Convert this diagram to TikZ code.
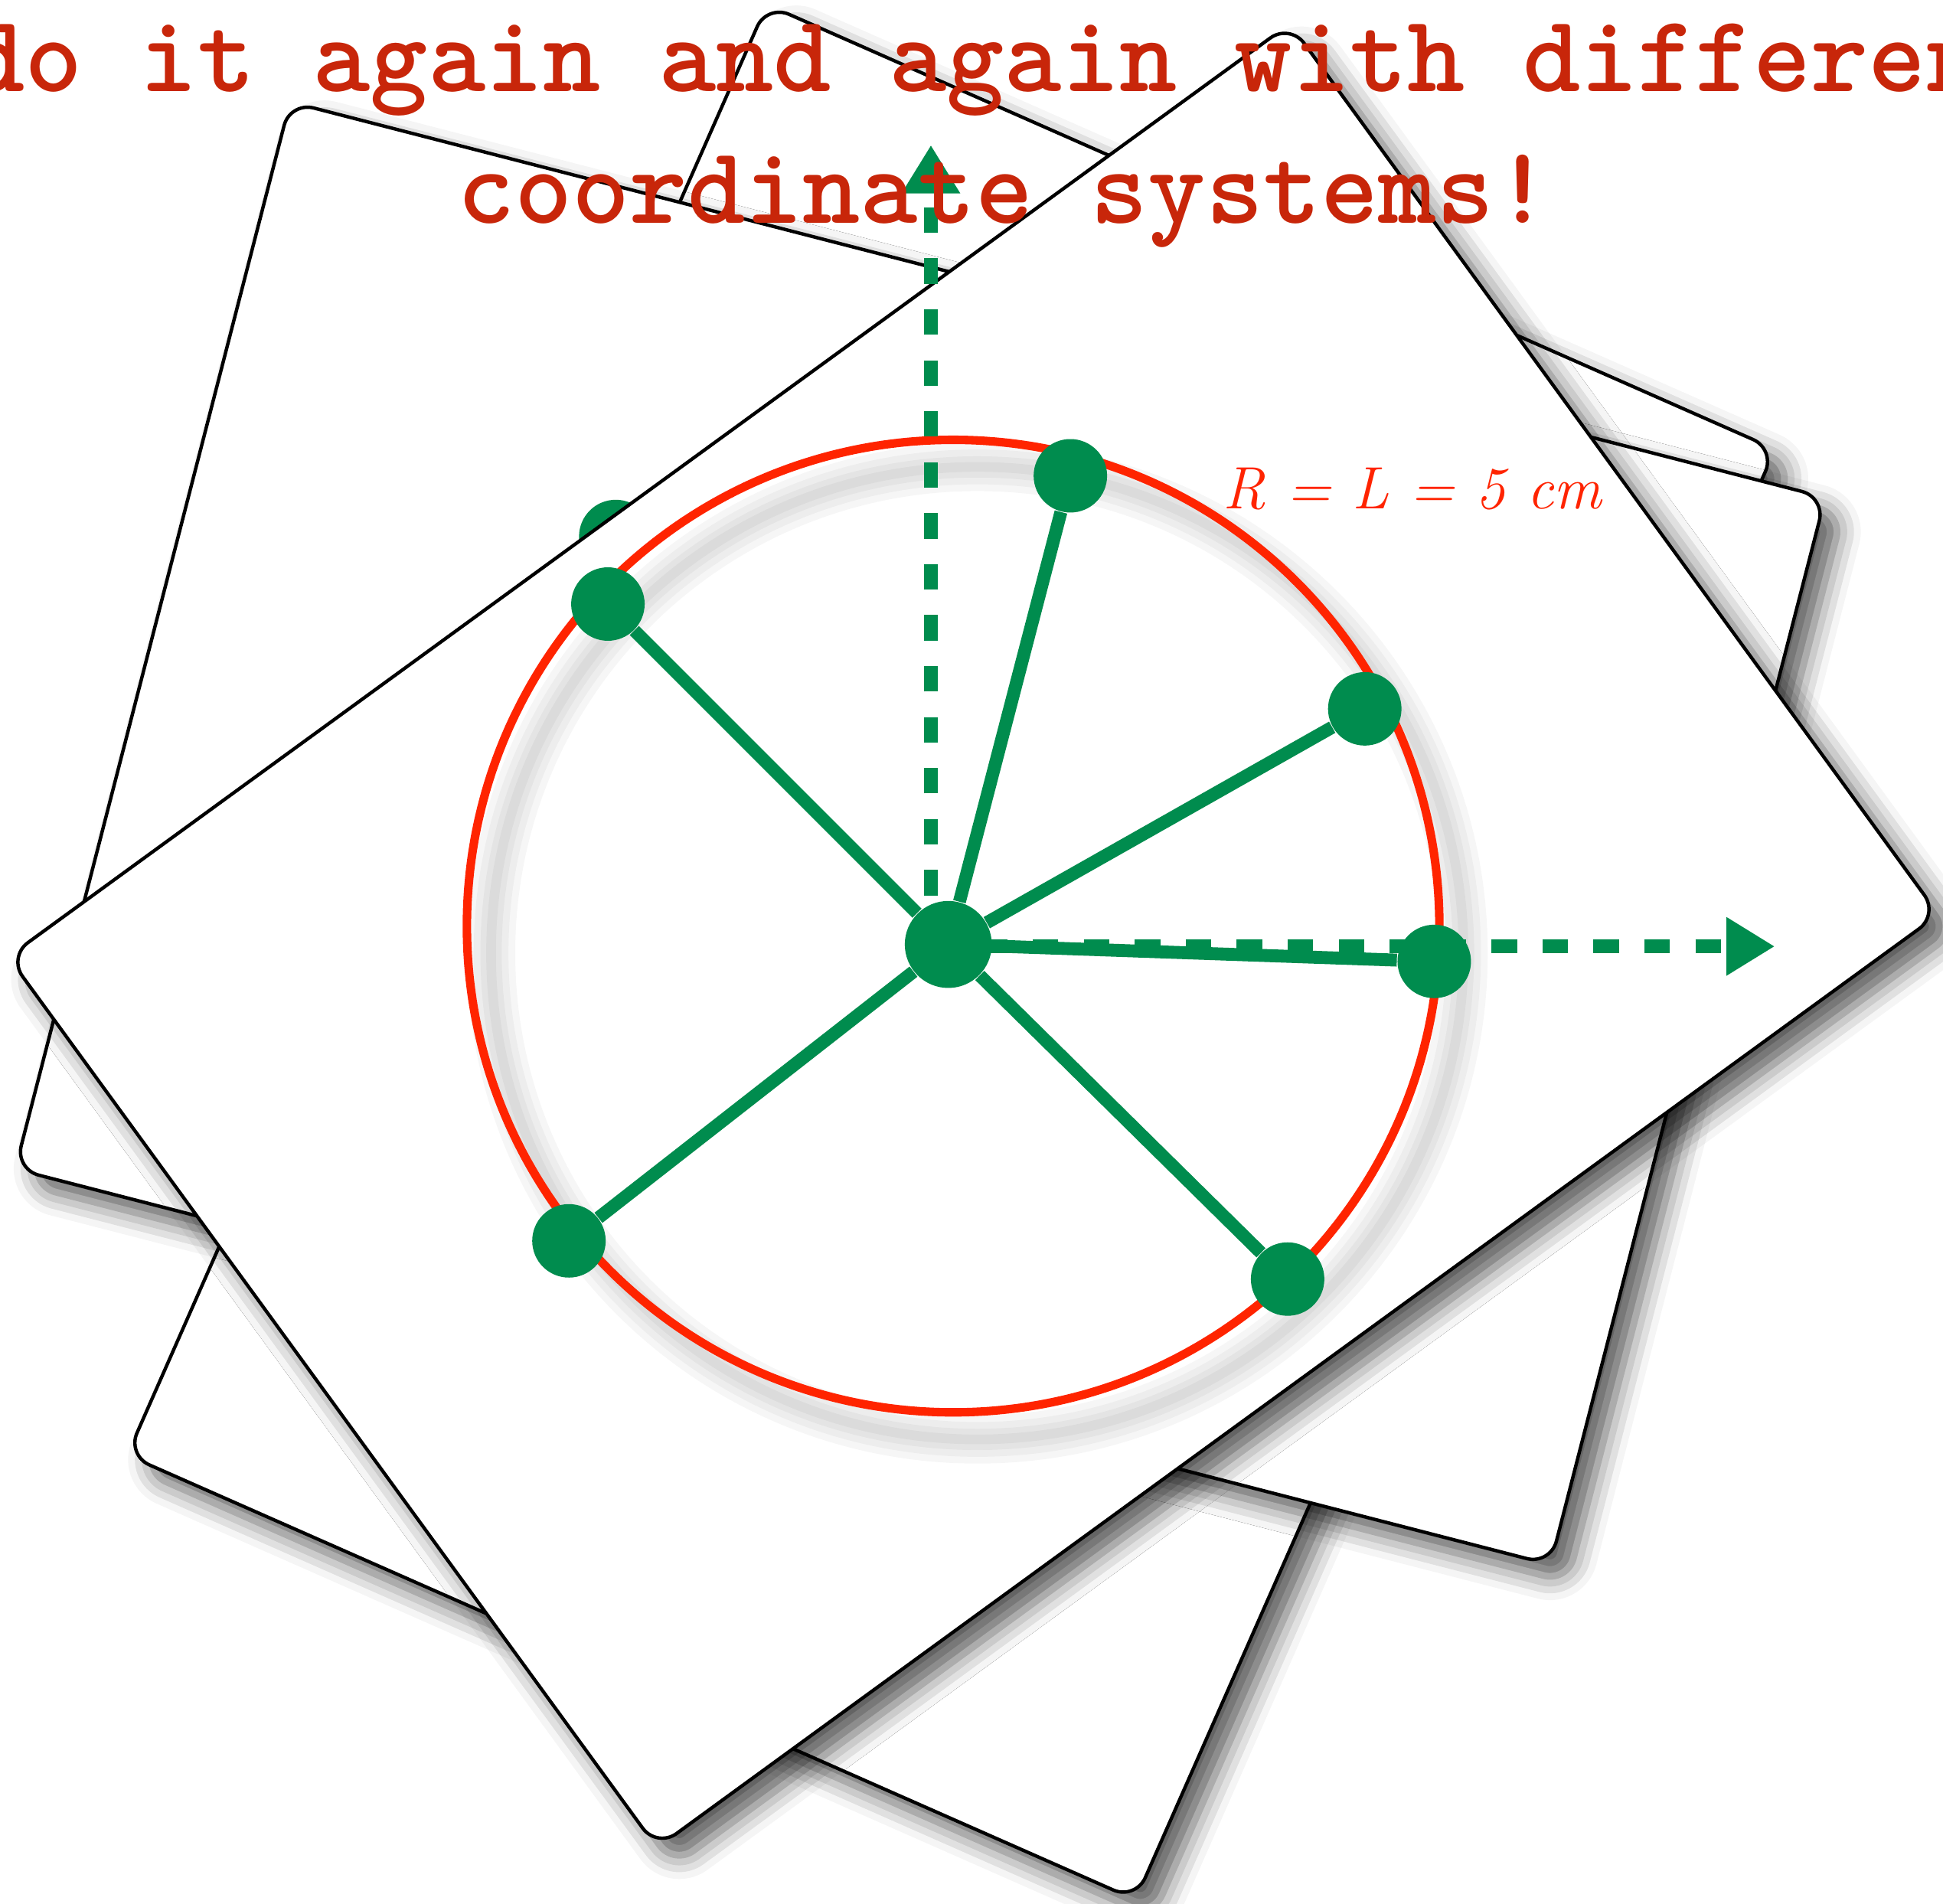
\documentclass[tikz,border=0pt]{standalone}
\usepackage{tikz}
\usetikzlibrary{arrows.meta,shadows.blur}

\definecolor{dotgreen}{RGB}{0,140,78}
\definecolor{ringred}{RGB}{255,36,0}
\definecolor{titlered}{RGB}{200,38,10}

\tikzset{
  card/.style={draw, fill=white, line width=1pt, rounded corners=0.25cm,
    inner sep=0pt, minimum width=16.4cm, minimum height=11.4cm,
    blur shadow={shadow xshift=5pt, shadow yshift=-5pt,
      shadow blur radius=7pt, shadow opacity=65}},
  dot/.style={circle, fill=dotgreen, inner sep=0pt, minimum size=0.76cm},
  spoke/.style={dotgreen, line width=3.8pt},
  axis/.style={dotgreen, line width=4pt, dash pattern=on 7.5pt off 7.5pt,
    -{Triangle[length=0.5cm,width=0.57cm]}},
  haze/.style={black, opacity=0.035}
}

\begin{document}
\begin{tikzpicture}
\useasboundingbox (-9.81,-9.92) rectangle (10.29,9.77);

% the sheets, back to front
\node[card, rotate=66.2] (cardC) at (0.03,-0.08) {};
\node[card, rotate=-14.45] (cardB) at (-0.29,1.15) {};
\node[dot] (q) at (-3.44,4.22) {};
\node[card, rotate=36.06] (cardD) at (0.26,0.09) {};

% soft shadow of the ring
\coordinate (m) at (0.05,0.19);
\coordinate (ms) at (0.3,-0.09);
\draw[haze, line width=0.5cm] (ms) circle (5.03);
\draw[haze, line width=0.36cm] (ms) circle (5.03);
\draw[haze, line width=0.22cm] (ms) circle (5.03);
\draw[haze, line width=0.1cm] (ms) circle (5.03);
\draw[ringred, line width=2.5pt] (m) circle (5.03);

% axes
\coordinate (ax) at (-0.18,-0.02);
\coordinate (xe) at (8.55,-0.02);
\coordinate (ye) at (-0.18,8.27);
\draw[axis] (ax) -- (xe);
\draw[axis] (ax) -- (ye);

% the star
\node[dot, minimum size=0.9cm] (o) at (0,0) {};
\node[dot] (p1) at (75.4:5.01) {};
\node[dot] (p2) at (135:4.98) {};
\node[dot] (p3) at (29.5:4.95) {};
\node[dot] (p4) at (-2:5.03) {};
\node[dot] (p5) at (218:4.98) {};
\node[dot] (p6) at (-44.6:4.93) {};
\draw[spoke] (o) -- (p1);
\draw[spoke] (o) -- (p2);
\draw[spoke] (o) -- (p3);
\draw[spoke] (o) -- (p4);
\draw[spoke] (o) -- (p5);
\draw[spoke] (o) -- (p6);

\node[ringred, anchor=base west, font=\fontsize{17.6}{21}\selectfont\itshape] (lbl) at (2.72,4.51) {R = L = 5 cm};

\node[titlered, anchor=base, font=\fontsize{32.3}{38}\selectfont\ttfamily\bfseries] (t1) at (0.58,8.82) {do it again and again with different};
\node[titlered, anchor=base, font=\fontsize{32.3}{38}\selectfont\ttfamily\bfseries] (t2) at (0.58,7.46) {coordinate systems!};
\end{tikzpicture}
\end{document}
